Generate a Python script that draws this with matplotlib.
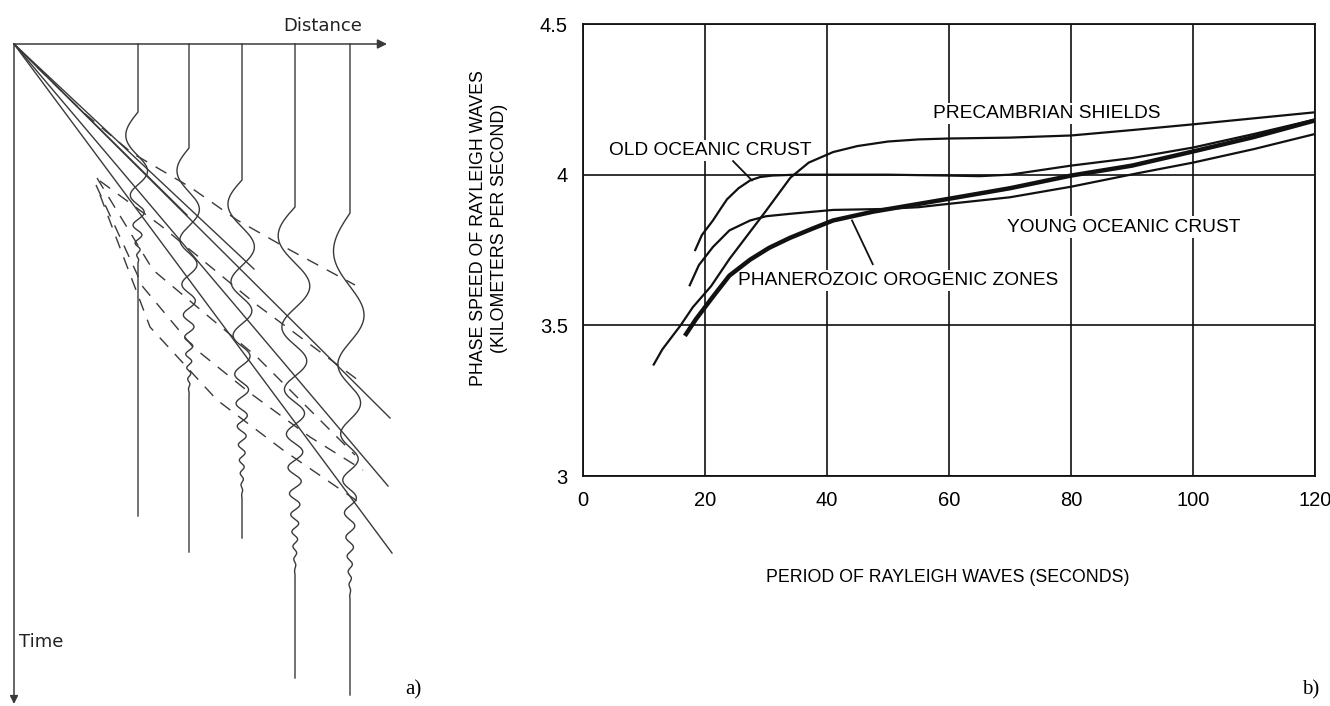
import numpy as np
import matplotlib
matplotlib.use('Agg')
import matplotlib.pyplot as plt

# ---------------------------------------------------------------------------
# b) dispersion curves: period (s) vs phase speed (km/s)
precambrian_period = [11.6, 13, 14.5, 16, 18, 21, 24, 27, 30, 34, 37, 41, 45, 50,
                      55, 60, 70, 80, 90, 100, 110, 120]
precambrian_speed = [3.37, 3.42, 3.46, 3.50, 3.56, 3.63, 3.72, 3.80, 3.88, 3.99,
                     4.04, 4.075, 4.095, 4.11, 4.117, 4.12, 4.123, 4.13, 4.148,
                     4.167, 4.187, 4.207]

old_oceanic_period = [18.4, 19.5, 21.3, 22.5, 23.6, 25.5, 27.4, 29, 31, 35, 40, 50,
                      60, 65, 70, 80, 90, 100, 110, 120]
old_oceanic_speed = [3.75, 3.80, 3.848, 3.885, 3.918, 3.955, 3.981, 3.992, 3.997,
                     4.0, 4.0, 4.0, 3.997, 3.995, 4.0, 4.03, 4.055, 4.09, 4.135,
                     4.183]

young_oceanic_period = [17.5, 19, 21.3, 24, 27.4, 30, 33.9, 41, 49, 55, 58.5, 70,
                        80, 91, 100, 110, 120]
young_oceanic_speed = [3.633, 3.70, 3.76, 3.815, 3.848, 3.862, 3.87, 3.883, 3.886,
                       3.892, 3.90, 3.925, 3.96, 4.005, 4.04, 4.085, 4.135]

phanerozoic_period = [16.7, 18.5, 21.3, 24, 27.4, 30.5, 33.9, 37.5, 41, 47.5, 53,
                      60, 70, 80, 90, 100, 110, 120]
phanerozoic_speed = [3.465, 3.52, 3.595, 3.665, 3.718, 3.757, 3.79, 3.82, 3.848,
                     3.877, 3.896, 3.92, 3.955, 3.997, 4.03, 4.077, 4.125, 4.18]

x_ticks = [0, 20, 40, 60, 80, 100, 120]
y_ticks = [3, 3.5, 4, 4.5]
y_tick_labels = ['3', '3.5', '4', '4.5']

# ---------------------------------------------------------------------------
# a) sketch of dispersed wave trains (distance / time in drawing units)
trace_dist = [124, 175, 228, 281, 336]
trace_onset = [68, 104, 136, 163, 169]
trace_coda = [221, 351, 456, 533, 556]
trace_end = [472, 508, 494, 634, 651]
first_period = [110, 100, 105, 125, 170]
last_period = [9, 9, 10, 11, 11]
first_amp = [14, 13, 15, 18, 18]
last_amp = [2.5, 2.5, 2.5, 3, 3]

# phase lines (solid, from the source) given by their far end
phase_line_ends = [(173, 171), (240, 225), (376, 374), (374, 442), (378, 509)]

# group lines (dashed)
group_lines = [
    [(23, 23), (70, 69), (118, 109), (176, 143), (223, 176), (276, 206), (341, 241)],
    [(86, 137), (146, 181), (243, 261), (348, 339)],
    [(83, 134), (139, 226), (243, 313), (306, 376), (341, 411)],
    [(82, 141), (129, 243), (179, 303), (236, 349), (296, 393), (349, 426)],
    [(86, 151), (136, 283), (203, 356), (269, 406), (349, 461)],
]

ink = '#3a3a3a'


def wave_train(onset, coda, p0, pend, a0, aend, n=900):
    """Dispersed wavelet: long periods first, short periods in the tail"""
    t = np.linspace(onset, coda, n)
    tau = (t - onset) / (coda - onset)
    period = pend + (p0 - pend) * (1 - tau) ** 1.5
    phase = 2 * np.pi * np.concatenate([[0], np.cumsum(np.diff(t) / period[1:])])
    amp = (aend + (a0 - aend) * (1 - tau)) * (1 - tau ** 8)
    return t, -amp * np.sin(phase)


fig = plt.figure(figsize=(13.3, 7.06), dpi=100)

# ---------------- panel a
ax_a = fig.add_axes([0, 0, 440 / 1330, 1])
ax_a.set_xlim(-14, 426)
ax_a.set_ylim(662, -44)
ax_a.axis('off')

ax_a.annotate('', xy=(373, 0), xytext=(0, 0),
              arrowprops=dict(arrowstyle='-|>', color=ink, lw=1.1,
                              mutation_scale=14, shrinkA=0, shrinkB=0))
ax_a.annotate('', xy=(0, 660), xytext=(0, 0),
              arrowprops=dict(arrowstyle='-|>', color=ink, lw=1.1,
                              mutation_scale=12, shrinkA=0, shrinkB=0))
ax_a.text(309, -18, 'Distance', family='DejaVu Sans', size=13, color='#222222',
          ha='center', va='center')
ax_a.text(5, 598, 'Time', family='DejaVu Sans', size=13, color='#222222',
          ha='left', va='center')

for i, dist in enumerate(trace_dist):
    t, s = wave_train(trace_onset[i], trace_coda[i], first_period[i],
                      last_period[i], first_amp[i], last_amp[i])
    xs = np.concatenate([[dist, dist], dist + s, [dist, dist]])
    ys = np.concatenate([[0, trace_onset[i]], t, [trace_coda[i], trace_end[i]]])
    ax_a.plot(xs, ys, color=ink, lw=1.0, zorder=3)

for end_x, end_y in phase_line_ends:
    ax_a.plot([0, end_x], [0, end_y], color=ink, lw=1.0, zorder=2)

for line in group_lines:
    gx, gy = zip(*line)
    ax_a.plot(gx, gy, color=ink, lw=1.0, linestyle=(0, (9, 7)), zorder=2)

fig.text(413 / 1330, 1 - 690 / 706, 'a)', family='Liberation Serif', size=15,
         ha='center', va='center')

# ---------------- panel b
ax_b = fig.add_axes([583 / 1330, 1 - 476 / 706, 732 / 1330, 452 / 706])
ax_b.set_xlim(0, 120)
ax_b.set_ylim(3, 4.5)
ax_b.set_xticks(x_ticks)
ax_b.set_yticks(y_ticks)
ax_b.set_yticklabels(y_tick_labels)
ax_b.tick_params(length=0, labelsize=14.5, pad=11)
for label in ax_b.get_xticklabels() + ax_b.get_yticklabels():
    label.set_family('Liberation Sans')
ax_b.grid(color='#111111', lw=1.2)
ax_b.set_axisbelow(True)
for spine in ax_b.spines.values():
    spine.set_linewidth(1.3)
    spine.set_color('#111111')

curve_color = '#111111'
ax_b.plot(precambrian_period, precambrian_speed, color=curve_color, lw=1.6, zorder=5)
ax_b.plot(old_oceanic_period, old_oceanic_speed, color=curve_color, lw=1.6, zorder=5)
ax_b.plot(young_oceanic_period, young_oceanic_speed, color=curve_color, lw=1.6, zorder=5)
ax_b.plot(phanerozoic_period, phanerozoic_speed, color=curve_color, lw=3.2, zorder=5,
          solid_capstyle='butt')

label_style = dict(family='Liberation Sans', size=13.8, ha='center', va='center',
                   zorder=4, bbox=dict(facecolor='white', edgecolor='none', pad=1.5))
ax_b.text(76.1, 4.203, 'PRECAMBRIAN SHIELDS', **label_style)
ax_b.text(20.8, 4.08, 'OLD OCEANIC CRUST', **label_style)
ax_b.text(88.7, 3.826, 'YOUNG OCEANIC CRUST', **label_style)
ax_b.text(51.6, 3.649, 'PHANEROZOIC OROGENIC ZONES', **label_style)

# leader lines
ax_b.plot([24.6, 27.7], [4.045, 3.981], color=curve_color, lw=1.3, zorder=5)
ax_b.plot([44.1, 47.5], [3.848, 3.703], color=curve_color, lw=1.3, zorder=5)

fig.text(948 / 1330, 1 - 578 / 706, 'PERIOD OF RAYLEIGH WAVES (SECONDS)',
         family='Liberation Sans', size=12.8, ha='center', va='center')
fig.text(489 / 1330, 1 - 228 / 706,
         'PHASE SPEED OF RAYLEIGH WAVES\n(KILOMETERS PER SECOND)',
         family='Liberation Sans', size=12.8, ha='center', va='center',
         rotation=90, linespacing=1.25, multialignment='center')

fig.text(1311 / 1330, 1 - 690 / 706, 'b)', family='Liberation Serif', size=15,
         ha='center', va='center')

plt.savefig('out.png', dpi=100, facecolor='white')
